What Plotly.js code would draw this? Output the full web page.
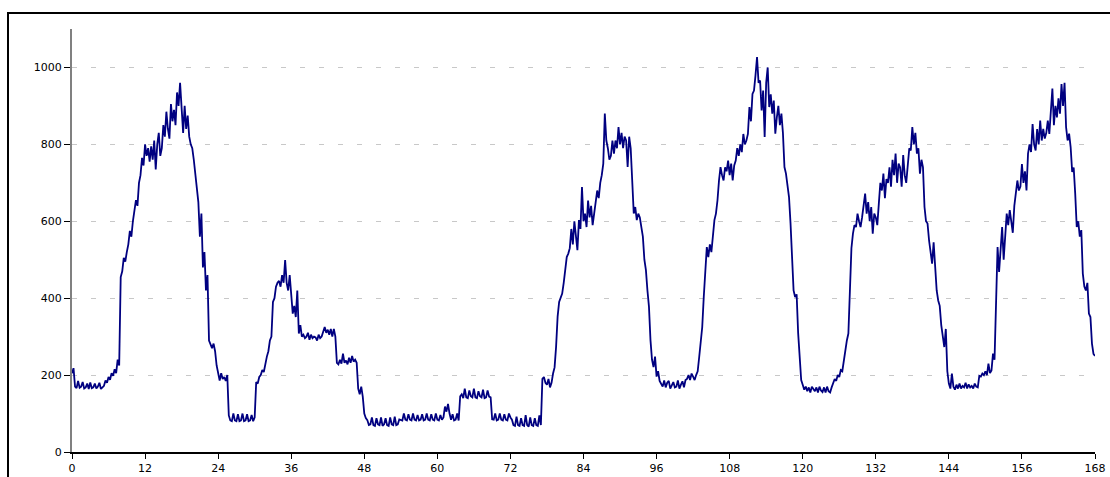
<!DOCTYPE html>
<html>
<head>
<meta charset="utf-8">
<script src="https://cdn.plot.ly/plotly-3.0.1.min.js"></script>
<style>
html,body{margin:0;padding:0;background:#fff;}
#wrap{position:relative;width:1110px;height:477px;overflow:hidden;}
#frame{position:absolute;left:7px;top:12px;width:1200px;height:600px;border:2px solid #000;box-sizing:border-box;pointer-events:none;}
#chart{position:absolute;left:0;top:0;width:1110px;height:477px;}
</style>
</head>
<body>
<div id="wrap"><div id="chart"></div><div id="frame"></div></div>
<script>
// quarter-hourly readings, hour 0 to 168
const day1 = [205,218,170,166, 185,167,170,182, 165,168,178,164, 181,166,168,178, 165,170,180,164, 168,172,186,180,
              195,188,205,198, 215,205,240,225, 455,470,505,495, 520,540,575,560, 600,630,655,640, 700,720,765,745,
              800,770,790,755, 795,760,810,735, 800,830,770,790, 850,820,885,840, 815,905,860,890, 850,935,900,960,
              880,830,900,840, 875,820,800,790, 760,720,690,650, 560,620,480,520, 420,460,290,280, 270,282,262,225];
const day2 = [200,186,205,190, 195,185,200,95, 82,80,100,82, 80,98,80,82, 100,80,82,98, 80,82,96,80,
              90,182,178,195, 200,213,208,230, 248,262,290,300, 390,400,430,440, 445,430,460,440, 499,440,420,460,
              395,360,380,351, 420,308,330,300, 305,296,300,310, 292,305,296,300, 298,290,305,296, 300,315,325,310,
              318,305,320,300, 320,300,232,228, 240,230,256,232, 238,228,245,232, 250,235,240,232, 165,150,170,144];
const day3 = [100,88,83,70, 72,90,70,68, 88,72,70,90, 68,72,88,70, 68,90,72,70, 92,70,72,85,
              84,82,100,84, 82,98,84,82, 100,84,82,96, 82,84,98,82, 84,100,84,82, 98,84,82,100,
              84,82,96,84, 90,118,105,125, 100,84,98,82, 84,100,82,145, 150,140,165,142, 140,160,145,142,
              165,142,140,158, 145,142,162,140, 142,160,144,142, 85,84,100,82, 84,100,84,82, 98,84,82,100];
const day4 = [90,84,70,68, 92,70,68,88, 70,68,96,70, 66,90,70,68, 88,70,68,95, 70,190,195,180,
              175,190,168,180, 204,220,274,352, 390,403,412,440, 470,507,516,530, 580,540,600,560, 525,603,580,689,
              600,620,585,654, 610,640,590,620, 654,680,660,700, 720,750,880,810, 790,760,770,810, 776,810,790,845,
              800,830,790,820, 810,741,820,790, 706,620,637,603, 620,610,585,560, 500,473,420,378, 291,240,221,248];
const day5 = [196,210,185,175, 170,186,168,180, 185,165,172,182, 168,170,186,165, 175,184,168,187, 190,200,187,204,
              196,187,200,210, 247,280,325,403, 470,533,507,540, 520,568,603,620, 654,706,741,720, 706,740,730,758,
              720,750,706,745, 758,790,770,800, 780,827,800,810, 827,897,860,931, 940,980,1027,960, 966,888,940,819,
              960,1000,897,930, 880,914,828,870, 900,850,880,830, 741,724,690,663, 594,481,420,403, 410,309,248,187];
const day6 = [175,162,170,158, 168,155,170,162, 158,168,155,170, 160,156,168,155, 170,158,155,168, 178,190,185,200,
              195,213,210,239, 260,290,308,420, 530,568,590,585, 620,600,585,610, 640,672,620,650, 600,637,568,620,
              610,590,646,700, 680,724,660,710, 700,740,690,760, 720,776,700,750, 740,690,772,720, 700,750,790,784,
              845,800,830,776, 790,724,760,740, 637,600,594,550, 520,490,545,463, 420,394,380,330, 300,273,320,210];
const day7 = [178,165,204,170, 162,175,165,178, 165,172,168,180, 165,176,168,172, 165,178,170,168, 198,196,204,200,
              210,200,230,205, 212,256,240,377, 533,468,520,585, 500,568,620,590, 629,600,570,640, 672,706,680,690,
              749,700,730,680, 776,800,780,853, 800,784,840,800, 862,810,840,815, 830,862,827,880, 945,850,900,870,
              920,880,957,900, 960,845,810,828, 793,728,740,672, 585,600,560,577, 464,430,420,440, 360,351,282,255, 250];
const xTicks = [0,12,24,36,48,60,72,84,96,108,120,132,144,156,168];
const yTicks = [0,200,400,600,800,1000];

const values = [].concat(day1, day2, day3, day4, day5, day6, day7);
const hours = values.map((v, i) => i * 0.25);

Plotly.newPlot('chart', [{
  x: hours, y: values, type: 'scatter', mode: 'lines',
  line: {color: '#000080', width: 1.8}, hoverinfo: 'none'
}], {
  width: 1110, height: 477,
  margin: {l: 72, r: 15, t: 29, b: 25},
  paper_bgcolor: '#fff', plot_bgcolor: '#fff',
  showlegend: false,
  font: {family: 'DejaVu Sans, Arial, sans-serif', size: 11, color: '#000'},
  xaxis: {
    range: [0, 168], tickvals: xTicks, ticktext: xTicks.map(String),
    showgrid: false, zeroline: false,
    showline: true, linecolor: '#000', linewidth: 1.5,
    ticks: 'outside', ticklen: 5, tickcolor: '#000', tickwidth: 1,
    tickfont: {family: 'DejaVu Sans, Arial, sans-serif', size: 11, color: '#000'}
  },
  yaxis: {
    range: [0, 1100], tickvals: yTicks, ticktext: yTicks.map(String),
    showgrid: true, gridcolor: '#c8c8c8', griddash: '5px,14px', gridwidth: 1,
    zeroline: false,
    showline: true, linecolor: '#808080', linewidth: 2,
    ticks: 'outside', ticklen: 6, tickcolor: '#000', tickwidth: 1,
    tickfont: {family: 'DejaVu Sans, Arial, sans-serif', size: 11, color: '#000'}
  }
}, {staticPlot: true, displayModeBar: false});
</script>
</body>
</html>
